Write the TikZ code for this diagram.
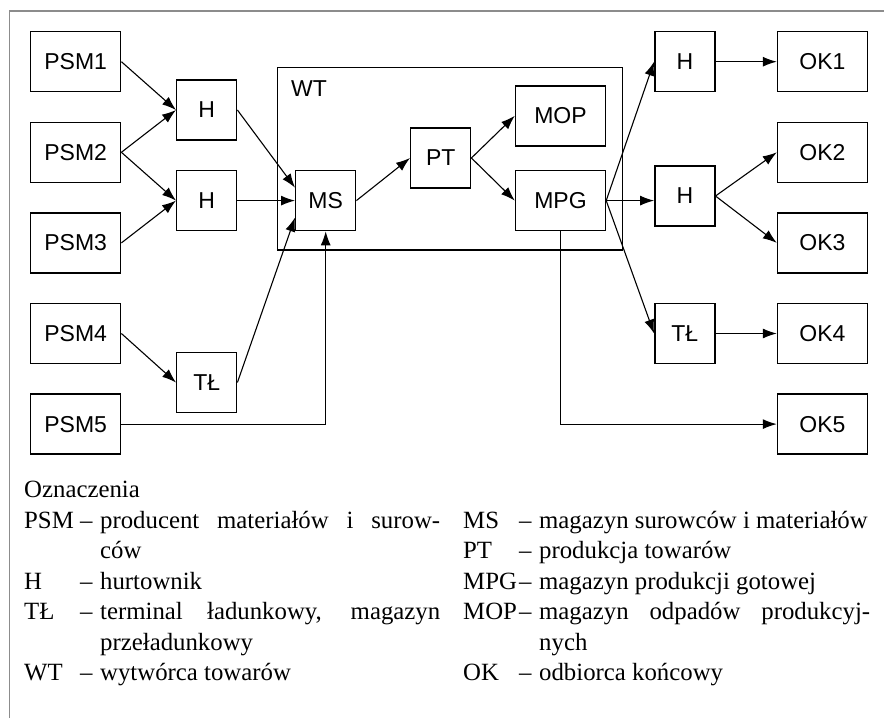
\documentclass[tikz,border=0pt]{standalone}
\usepackage{fontspec}
\setmainfont{Liberation Serif}
\setsansfont{Liberation Sans}
\usetikzlibrary{positioning,arrows.meta}
\tikzstyle{wide}=[draw, line width=1.4pt, minimum width=90pt, minimum height=60pt, inner sep=0pt, font=\sffamily\fontsize{23}{27}\selectfont]
\tikzstyle{hub}=[wide, minimum width=60pt]
\tikzstyle{arr}=[-{Latex[length=14pt,width=10pt]}, line width=1.1pt]
\tikzstyle{lgd}=[anchor=base west, inner sep=0pt, font=\fontsize{24.8}{30}\selectfont]

\begin{document}
\begin{tikzpicture}[x=1pt,y=-1pt,node distance=90.6pt]
\useasboundingbox (0,0) rectangle (884,718);
\draw[black!45, line width=1.2pt] (9.5,718) -- (9.5,11) -- (884,11);

% producenci
\node[wide] at (75.7,61.7) (psm1) {PSM1};
\node[wide, below of = psm1] (psm2) {PSM2};
\node[wide, below of = psm2] (psm3) {PSM3};
\node[wide, below of = psm3] (psm4) {PSM4};
\node[wide, below of = psm4] (psm5) {PSM5};

\node[hub] at (206.7,110) (h1) {H};
\node[hub, below of = h1] (h2) {H};
\node[hub] at (206.7,382.5) (tl1) {TŁ};

% wytworca
\node[draw, line width=1.4pt, minimum width=345pt, minimum height=182.7pt] at (450.2,158.6) (wt) {};
\node[anchor=west, inner sep=0pt, font=\sffamily\fontsize{23}{27}\selectfont] at ([xshift=14pt,yshift=-21.7pt]wt.north west) (wtlab) {WT};
\node[hub, right of = h2, node distance = 119pt] (ms) {MS};
\node[hub] at (440.7,158) (pt) {PT};
\node[wide, right of = ms, node distance = 234.8pt] (mpg) {MPG};
\node[wide, above of = mpg, node distance = 84.8pt] (mop) {MOP};

% odbiorcy
\node[hub] at (684.8,61.7) (hr1) {H};
\node[hub] at (684.8,196) (hr2) {H};
\node[hub] at (684.8,333.5) (tl2) {TŁ};
\node[wide, right of = hr1, node distance = 137.7pt] (ok1) {OK1};
\node[wide, below of = ok1] (ok2) {OK2};
\node[wide, below of = ok2] (ok3) {OK3};
\node[wide, below of = ok3] (ok4) {OK4};
\node[wide, below of = ok4] (ok5) {OK5};

\draw[arr] (psm1.east) -- (h1.west);
\draw[arr] (psm2.east) -- (h1.west);
\draw[arr] (psm2.east) -- (h2.west);
\draw[arr] (psm3.east) -- (h2.west);
\draw[arr] (psm4.east) -- (tl1.west);
\draw[arr] (h1.east) -- ([yshift=13pt]ms.west);
\draw[arr] (h2.east) -- (ms.west);
\draw[arr] (tl1.east) -- ([yshift=-17pt]ms.west);
\draw[arr] (psm5.east) -| (ms.south);

\draw[arr] (ms.east) -- (pt.west);
\draw[arr] (pt.east) -- (mop.west);
\draw[arr] (pt.east) -- (mpg.west);

\draw[arr] (mpg.east) -- (hr1.west);
\draw[arr] (mpg.east) -- (mpg.east -| hr2.west);
\draw[arr] (mpg.east) -- (tl2.west);
\draw[arr] (mpg.south) |- (ok5.west);
\draw[arr] (hr1.east) -- (ok1.west);
\draw[arr] (hr2.east) -- (ok2.west);
\draw[arr] (hr2.east) -- (ok3.west);
\draw[arr] (tl2.east) -- (ok4.west);

% oznaczenia
\node[lgd] at (24,497) (lg0) {Oznaczenia};
\node[lgd] at (24,528) (lg1) {\makebox[56pt][l]{PSM}\makebox[20pt][l]{–}\makebox[340pt][s]{producent materiałów i surow-}};
\node[lgd] at (100,558.5) (lg2) {ców};
\node[lgd] at (24,589) (lg3) {\makebox[56pt][l]{H}\makebox[20pt][l]{–}hurtownik};
\node[lgd] at (24,619.5) (lg4) {\makebox[56pt][l]{TŁ}\makebox[20pt][l]{–}\makebox[340pt][s]{terminal ładunkowy, magazyn}};
\node[lgd] at (100,650) (lg5) {przeładunkowy};
\node[lgd] at (24,680.5) (lg6) {\makebox[56pt][l]{WT}\makebox[20pt][l]{–}wytwórca towarów};

\node[lgd] at (463,528) (lg7) {\makebox[56pt][l]{MS}\makebox[20pt][l]{–}magazyn surowców i materiałów};
\node[lgd] at (463,558.5) (lg8) {\makebox[56pt][l]{PT}\makebox[20pt][l]{–}produkcja towarów};
\node[lgd] at (463,589) (lg9) {\makebox[56pt][l]{MPG}\makebox[20pt][l]{–}magazyn produkcji gotowej};
\node[lgd] at (463,619.5) (lg10) {\makebox[56pt][l]{MOP}\makebox[20pt][l]{–}\makebox[331pt][s]{magazyn odpadów produkcyj-}};
\node[lgd] at (539,650) (lg11) {nych};
\node[lgd] at (463,680.5) (lg12) {\makebox[56pt][l]{OK}\makebox[20pt][l]{–}odbiorca końcowy};
\end{tikzpicture}
\end{document}
